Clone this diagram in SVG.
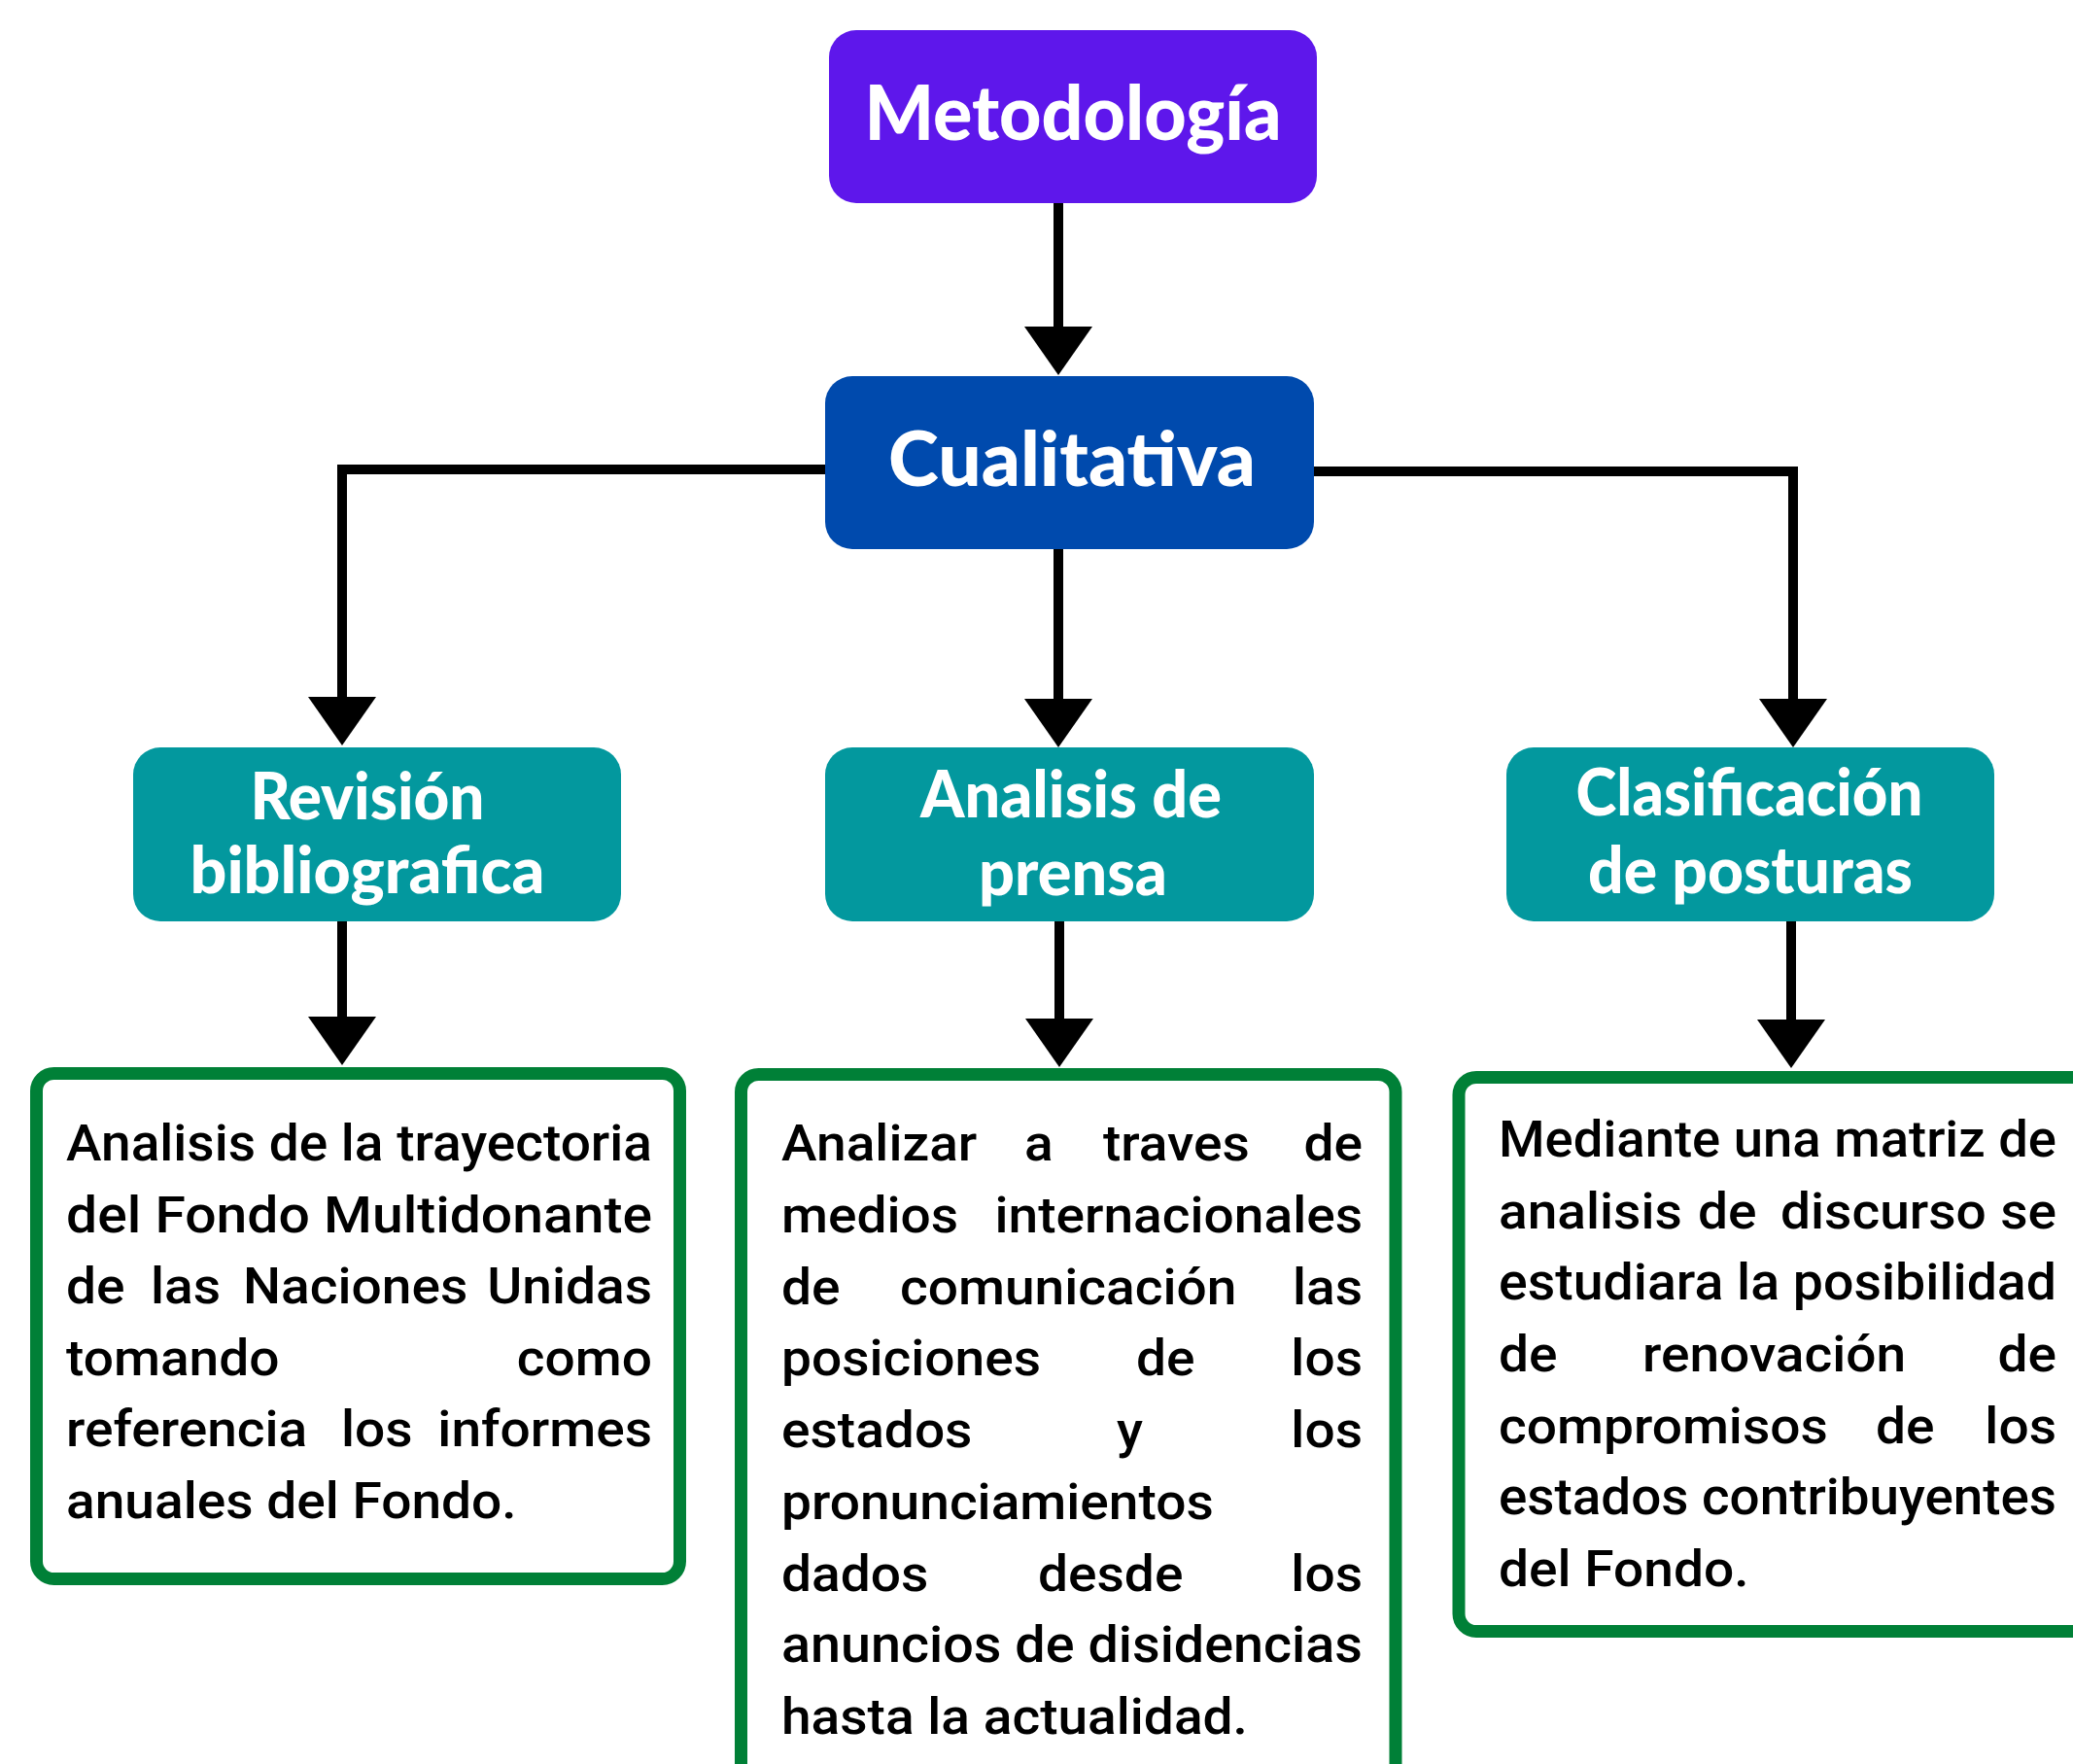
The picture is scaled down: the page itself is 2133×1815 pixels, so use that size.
<svg xmlns="http://www.w3.org/2000/svg" width="2133" height="1815" viewBox="0 0 2133 1815">
<defs>
<marker id="ah" markerUnits="userSpaceOnUse" viewBox="0 0 50 70" markerWidth="50" markerHeight="70" refX="1" refY="35" orient="auto">
<path d="M0,0 L50,35 L0,70 Z" fill="#000"/>
</marker>
<style>
.conn{fill:none;stroke:#000;stroke-width:10;stroke-linejoin:miter;marker-end:url(#ah)}
.hd{font-family:Lato,"Open Sans",sans-serif;font-weight:900;fill:#fff;text-anchor:middle}
.t1{font-size:78px}
.t2{font-size:66px}
.box{fill:#fff;stroke:#008037;stroke-width:13}
.b{font-family:Roboto,"Liberation Sans",sans-serif;font-size:51px;font-weight:500;fill:#000}
.e{text-anchor:end}
</style>
</defs>
<rect width="2133" height="1815" fill="#fff"/>

<g id="connectors">
<path class="conn" d="M1089 209 V337"/>
<path class="conn" d="M860 483 H352 V718"/>
<path class="conn" d="M1089 560 V720"/>
<path class="conn" d="M1340 485 H1845 V720"/>
<path class="conn" d="M352 945 V1047"/>
<path class="conn" d="M1090 945 V1049"/>
<path class="conn" d="M1843 945 V1050"/>
</g>

<g id="metodologia">
<rect x="853" y="31" width="502" height="178" rx="28" fill="#5E17EB"/>
<text class="hd t1" x="1104" y="144" textLength="429" lengthAdjust="spacingAndGlyphs">Metodología</text>
</g>

<g id="cualitativa">
<rect x="849" y="387" width="503" height="178" rx="28" fill="#004AAD"/>
<text class="hd t1" x="1103" y="500" textLength="378" lengthAdjust="spacingAndGlyphs">Cualitativa</text>
</g>

<g id="revision">
<rect x="137" y="769" width="502" height="179" rx="28" fill="#03989E"/>
<text class="hd t2" x="378" y="843" textLength="241" lengthAdjust="spacingAndGlyphs">Revisión</text>
<text class="hd t2" x="378" y="919" textLength="365" lengthAdjust="spacingAndGlyphs">bibliografica</text>
</g>

<g id="analisis">
<rect x="849" y="769" width="503" height="179" rx="28" fill="#03989E"/>
<text class="hd t2" x="1102" y="841" textLength="310" lengthAdjust="spacingAndGlyphs">Analisis de</text>
<text class="hd t2" x="1104" y="921" textLength="194" lengthAdjust="spacingAndGlyphs">prensa</text>
</g>

<g id="clasificacion">
<rect x="1550" y="769" width="502" height="179" rx="28" fill="#03989E"/>
<text class="hd t2" x="1800" y="839" textLength="357" lengthAdjust="spacingAndGlyphs">Clasificación</text>
<text class="hd t2" x="1801" y="919" textLength="334" lengthAdjust="spacingAndGlyphs">de posturas</text>
</g>

<g id="desc-revision">
<rect class="box" x="37.5" y="1104.5" width="662" height="520" rx="18"/>
<text class="b" x="68" y="1194" textLength="603" lengthAdjust="spacingAndGlyphs">Analisis de la trayectoria</text>
<text class="b" x="68" y="1268" textLength="603" lengthAdjust="spacingAndGlyphs">del Fondo Multidonante</text>
<text class="b" transform="translate(68,1341) scale(1.08,1)" x="0" y="0">de</text>
<text class="b" transform="translate(155,1341) scale(1.08,1)" x="0" y="0">las</text>
<text class="b" transform="translate(250,1341) scale(1.08,1)" x="0" y="0">Naciones</text>
<text class="b e" transform="translate(671,1341) scale(1.08,1)" x="0" y="0">Unidas</text>
<text class="b" transform="translate(68,1415) scale(1.08,1)" x="0" y="0">tomando</text>
<text class="b e" transform="translate(671,1415) scale(1.08,1)" x="0" y="0">como</text>
<text class="b" transform="translate(68,1488) scale(1.08,1)" x="0" y="0">referencia</text>
<text class="b" transform="translate(351,1488) scale(1.08,1)" x="0" y="0">los</text>
<text class="b e" transform="translate(671,1488) scale(1.08,1)" x="0" y="0">informes</text>
<text class="b" transform="translate(68,1562) scale(1.08,1)" x="0" y="0">anuales del Fondo.</text>
</g>

<g id="desc-analisis">
<rect class="box" x="762.5" y="1105.5" width="673.5" height="800" rx="18"/>
<text class="b" transform="translate(804,1194) scale(1.08,1)" x="0" y="0">Analizar</text>
<text class="b" transform="translate(1054,1194) scale(1.08,1)" x="0" y="0">a</text>
<text class="b" transform="translate(1135,1194) scale(1.08,1)" x="0" y="0">traves</text>
<text class="b e" transform="translate(1402,1194) scale(1.08,1)" x="0" y="0">de</text>
<text class="b" transform="translate(804,1268) scale(1.08,1)" x="0" y="0">medios</text>
<text class="b e" transform="translate(1402,1268) scale(1.08,1)" x="0" y="0">internacionales</text>
<text class="b" transform="translate(804,1342) scale(1.08,1)" x="0" y="0">de</text>
<text class="b" transform="translate(926,1342) scale(1.08,1)" x="0" y="0">comunicación</text>
<text class="b e" transform="translate(1402,1342) scale(1.08,1)" x="0" y="0">las</text>
<text class="b" transform="translate(804,1415) scale(1.08,1)" x="0" y="0">posiciones</text>
<text class="b" transform="translate(1169,1415) scale(1.08,1)" x="0" y="0">de</text>
<text class="b e" transform="translate(1402,1415) scale(1.08,1)" x="0" y="0">los</text>
<text class="b" transform="translate(804,1489) scale(1.08,1)" x="0" y="0">estados</text>
<text class="b" transform="translate(1149,1489) scale(1.08,1)" x="0" y="0">y</text>
<text class="b e" transform="translate(1402,1489) scale(1.08,1)" x="0" y="0">los</text>
<text class="b" transform="translate(804,1563) scale(1.08,1)" x="0" y="0">pronunciamientos</text>
<text class="b" transform="translate(804,1637) scale(1.08,1)" x="0" y="0">dados</text>
<text class="b" transform="translate(1068,1637) scale(1.08,1)" x="0" y="0">desde</text>
<text class="b e" transform="translate(1402,1637) scale(1.08,1)" x="0" y="0">los</text>
<text class="b" x="804" y="1710" textLength="598" lengthAdjust="spacingAndGlyphs">anuncios de disidencias</text>
<text class="b" transform="translate(804,1784) scale(1.08,1)" x="0" y="0">hasta la actualidad.</text>
</g>

<g id="desc-clasificacion">
<rect class="box" x="1501" y="1108.5" width="700" height="570" rx="18"/>
<text class="b" x="1542" y="1190" textLength="574" lengthAdjust="spacingAndGlyphs">Mediante una matriz de</text>
<text class="b" transform="translate(1542,1264) scale(1.08,1)" x="0" y="0">analisis</text>
<text class="b" transform="translate(1747,1264) scale(1.08,1)" x="0" y="0">de</text>
<text class="b" transform="translate(1832,1264) scale(1.08,1)" x="0" y="0">discurso</text>
<text class="b e" transform="translate(2116,1264) scale(1.08,1)" x="0" y="0">se</text>
<text class="b" x="1542" y="1337" textLength="574" lengthAdjust="spacingAndGlyphs">estudiara la posibilidad</text>
<text class="b" transform="translate(1542,1411) scale(1.08,1)" x="0" y="0">de</text>
<text class="b" transform="translate(1690,1411) scale(1.08,1)" x="0" y="0">renovación</text>
<text class="b e" transform="translate(2116,1411) scale(1.08,1)" x="0" y="0">de</text>
<text class="b" transform="translate(1542,1485) scale(1.08,1)" x="0" y="0">compromisos</text>
<text class="b" transform="translate(1930,1485) scale(1.08,1)" x="0" y="0">de</text>
<text class="b e" transform="translate(2116,1485) scale(1.08,1)" x="0" y="0">los</text>
<text class="b" x="1542" y="1558" textLength="574" lengthAdjust="spacingAndGlyphs">estados contribuyentes</text>
<text class="b" transform="translate(1542,1632) scale(1.08,1)" x="0" y="0">del Fondo.</text>
</g>
</svg>
